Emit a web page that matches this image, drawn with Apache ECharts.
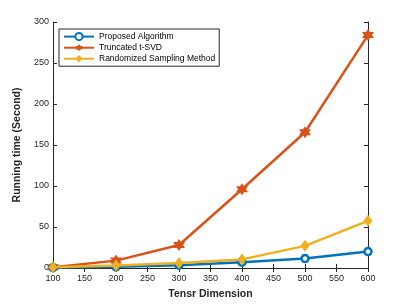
<!DOCTYPE html>
<html><head><meta charset="utf-8">
<script src="https://cdn.jsdelivr.net/npm/echarts@6/dist/echarts.min.js"></script>
<style>html,body{margin:0;padding:0;background:#fff}#c{width:407px;height:305px}</style>
</head><body><div id="c"></div>
<script>
const categories = [100, 200, 300, 400, 500, 600];
const proposed = [0.5, 1.5, 3.5, 7, 11.5, 20];
const truncated = [1, 9, 28, 96, 165.5, 284];
const randomized = [1, 3, 6, 10.5, 27, 57.5];
const xTicks = [100,150,200,250,300,350,400,450,500,550,600];
const yTicks = [0,50,100,150,200,250,300];

function hexagram(){
  let pts=[];
  for(let i=0;i<12;i++){
    const a=Math.PI/2 + i*Math.PI/6;
    const r = i%2===0 ? 1 : 0.577;
    pts.push([(r*Math.cos(a)).toFixed(3),(-r*Math.sin(a)).toFixed(3)]);
  }
  return 'path://M'+pts.map(p=>p.join(' ')).join(' L')+' Z';
}
const star = hexagram();
const F = 'Liberation Sans, Arial, sans-serif';
const chart = echarts.init(document.getElementById('c'));
const mk = (arr)=>categories.map((x,i)=>[x,arr[i]]);
const axBase = {
  type:'value', min:xTicks[0], max:xTicks[xTicks.length-1], interval:50,
  axisLine:{show:true,lineStyle:{color:'#262626',width:1}},
  axisTick:{show:true,inside:true,length:4,lineStyle:{color:'#262626'}},
  splitLine:{show:false}
};
chart.setOption({
  animation:false,
  backgroundColor:'#fff',
  grid:{left:53,right:39,top:22,bottom:34,containLabel:false},
  legend:{
    orient:'vertical', left:59, top:29, padding:[3,4,3,4], itemGap:2,
    itemWidth:30, itemHeight:9,
    borderColor:'#262626', borderWidth:1, backgroundColor:'#fff',
    textStyle:{fontFamily:F,fontSize:8.5,color:'#000'},
    data:['Proposed Algorithm','Truncated t-SVD','Randomized Sampling Method']
  },
  xAxis:[
    Object.assign({},axBase,{position:'bottom',
      name:'Tensr Dimension', nameLocation:'middle', nameGap:21,
      nameTextStyle:{fontFamily:F,fontSize:10.5,fontWeight:'bold',color:'#262626'},
      axisLabel:{fontFamily:F,fontSize:9,color:'#262626',margin:6}}),
    Object.assign({},axBase,{position:'top',axisLabel:{show:false}})
  ],
  yAxis:[
    {type:'value',min:yTicks[0],max:yTicks[yTicks.length-1],interval:50,position:'left',
      axisLine:{show:true,lineStyle:{color:'#262626'}},
      axisTick:{show:true,inside:true,length:4,lineStyle:{color:'#262626'}},
      splitLine:{show:false},
      name:'Running time (Second)', nameLocation:'middle', nameGap:23,
      nameTextStyle:{fontFamily:F,fontSize:10.5,fontWeight:'bold',color:'#262626'},
      axisLabel:{fontFamily:F,fontSize:9,color:'#262626',margin:4}},
    {type:'value',min:yTicks[0],max:yTicks[yTicks.length-1],interval:50,position:'right',
      axisLine:{show:true,lineStyle:{color:'#262626'}},
      axisTick:{show:true,inside:true,length:4,lineStyle:{color:'#262626'}},
      splitLine:{show:false},axisLabel:{show:false}}
  ],
  series:[
    {name:'Proposed Algorithm',type:'line',data:mk(proposed),symbol:'circle',symbolSize:7,
     lineStyle:{color:'#0072BD',width:2.5},
     itemStyle:{color:'#fff',borderColor:'#0072BD',borderWidth:2.5},z:5},
    {name:'Truncated t-SVD',type:'line',data:mk(truncated),symbol:star,symbolSize:12,
     lineStyle:{color:'#D95319',width:2.5},itemStyle:{color:'#D95319'},z:4},
    {name:'Randomized Sampling Method',type:'line',data:mk(randomized),symbol:'diamond',symbolSize:[9,12],
     lineStyle:{color:'#EDB120',width:2.5},itemStyle:{color:'#EDB120'},z:6}
  ]
});
</script></body></html>
